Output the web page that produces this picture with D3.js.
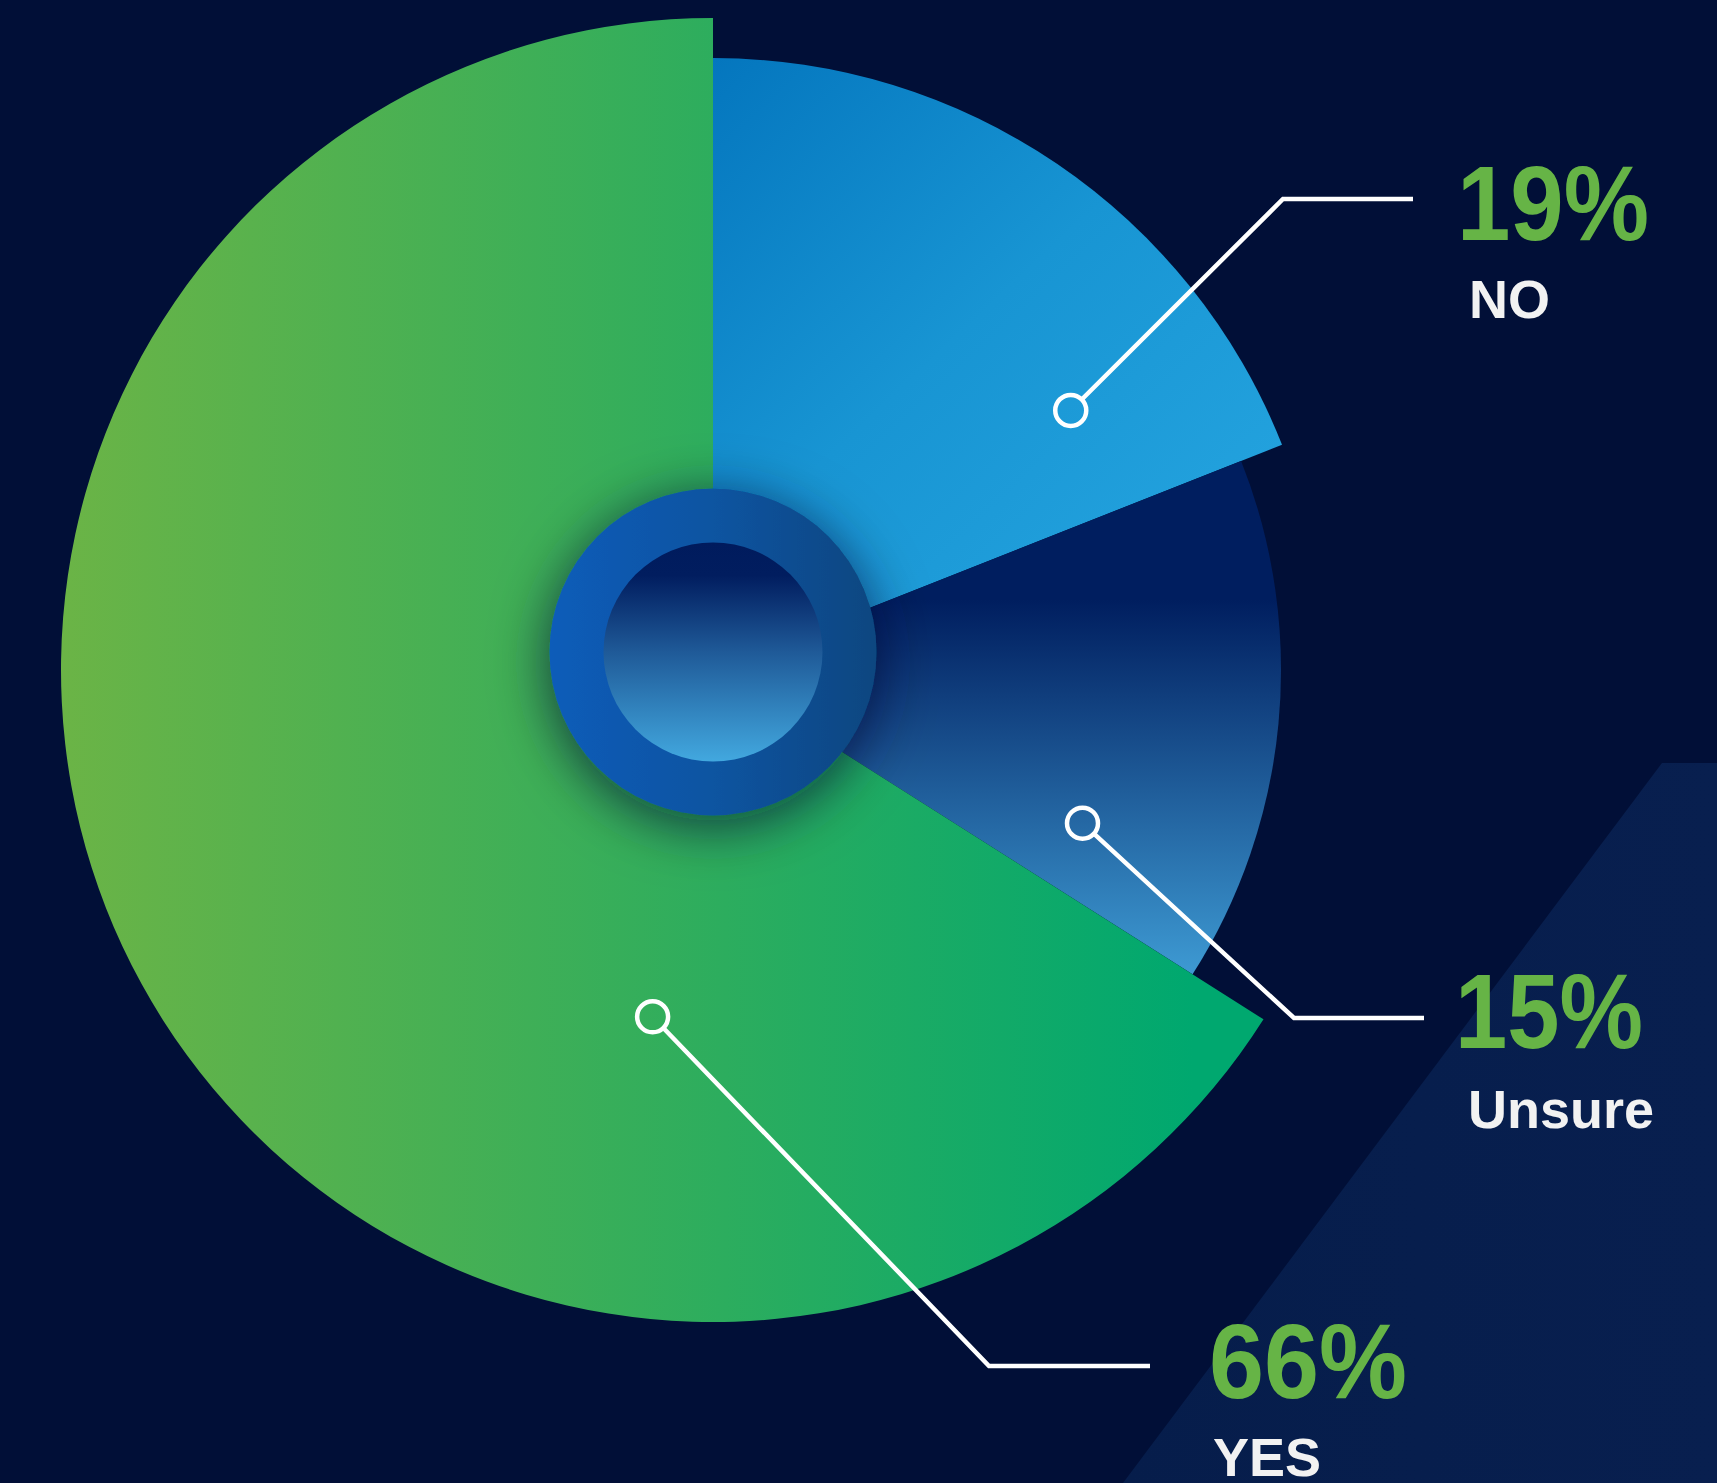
<!DOCTYPE html>
<html>
<head>
<meta charset="utf-8">
<script src="https://cdn.jsdelivr.net/npm/d3@7"></script>
<style>
  html, body { margin: 0; padding: 0; background: #010f37; }
  svg { display: block; }
</style>
</head>
<body>
<script>
// Survey answers (percent of respondents)
const categories = ["NO", "Unsure", "YES"];
const shares = [19, 15, 66];
const shareLabels = ["19%", "15%", "66%"];

const W = 1717, H = 1483;
const cx = 713, cy = 670;

// Each answer gets its own outer radius
const outerRadius = { NO: 612, Unsure: 568, YES: 652 };

// Callout layout: anchor sits at fraction t of the slice sweep, at radius r
const callout = {
  NO:     { t: 0.79,  r: 442, elbow: [1283, 199],  end: [1413, 199],  label: [1457, 240],  width: 192, sub: [1469, 318] },
  Unsure: { t: 0.817, r: 400, elbow: [1294, 1018], end: [1424, 1018], label: [1455, 1048], width: 188, sub: [1468, 1128] },
  YES:    { t: 0.284, r: 352, elbow: [989, 1366],  end: [1150, 1366], label: [1209, 1398], width: 198, sub: [1213, 1476] }
};

const svg = d3.select("body").append("svg")
  .attr("width", W).attr("height", H)
  .attr("viewBox", `0 0 ${W} ${H}`);

const defs = svg.append("defs");

function linear(id, attrs, stops) {
  const g = defs.append("linearGradient").attr("id", id);
  Object.entries(attrs).forEach(([k, v]) => g.attr(k, v));
  stops.forEach(([o, c]) => g.append("stop").attr("offset", o).attr("stop-color", c));
  return g;
}

// slice fills (coordinates relative to the pie centre)
linear("grad-YES", { gradientUnits: "userSpaceOnUse", x1: -652, y1: 0, x2: 480, y2: 0 },
  [[0, "#6bb446"], [1, "#00a86f"]]);
linear("grad-NO", { gradientUnits: "userSpaceOnUse", x1: 0, y1: -612, x2: 460, y2: -120 },
  [[0, "#0476be"], [0.55, "#1895d3"], [1, "#22a1dd"]]);
linear("grad-Unsure", { gradientUnits: "userSpaceOnUse", x1: 0, y1: -70, x2: 0, y2: 350 },
  [[0, "#001e5f"], [1, "#45a9e1"]]);
// centre ring and hub
linear("grad-ring", { x1: 0, y1: 0, x2: 1, y2: 0 },
  [[0, "#0a5cb9"], [0.5, "#0a54a1"], [1, "#0b4680"]]);
linear("grad-hub", { x1: 0, y1: 0, x2: 0, y2: 1 },
  [[0, "#001b5d"], [0.15, "#011d5f"], [0.5, "#1f5a98"], [1, "#42a8df"]]);
linear("grad-panel", { gradientUnits: "userSpaceOnUse", x1: 1120, y1: 0, x2: 1717, y2: 0 },
  [[0, "#061d4b"], [1, "#081f4f"]]);

const shadow = defs.append("filter").attr("id", "ring-shadow")
  .attr("x", "-70%").attr("y", "-70%").attr("width", "240%").attr("height", "240%");
shadow.append("feGaussianBlur").attr("in", "SourceAlpha").attr("stdDeviation", 28).attr("result", "blur");
shadow.append("feOffset").attr("in", "blur").attr("dx", 0).attr("dy", 10).attr("result", "off");
shadow.append("feFlood").attr("flood-color", "#001030").attr("flood-opacity", 0.7).attr("result", "col");
shadow.append("feComposite").attr("in", "col").attr("in2", "off").attr("operator", "in").attr("result", "sh");
const merge = shadow.append("feMerge");
merge.append("feMergeNode").attr("in", "sh");
merge.append("feMergeNode").attr("in", "SourceGraphic");

// background panel in the lower right corner
svg.append("polygon")
  .attr("points", [[1662, 763], [W, 763], [W, H], [1123, H]].map(p => p.join(",")).join(" "))
  .attr("fill", "url(#grad-panel)");

const data = categories.map((c, i) => ({ cat: c, value: shares[i], label: shareLabels[i] }));
const pie = d3.pie().sort(null).value(d => d.value).startAngle(0).endAngle(2 * Math.PI);
const arcs = pie(data);
const arcGen = d3.arc().innerRadius(0).outerRadius(d => outerRadius[d.data.cat]);

const g = svg.append("g").attr("transform", `translate(${cx},${cy})`);

g.selectAll("path.slice").data(arcs).join("path")
  .attr("class", "slice")
  .attr("d", arcGen)
  .attr("fill", d => `url(#grad-${d.data.cat})`);

// centre ring with soft shadow, and the hub inside it
g.append("circle").attr("cx", 0).attr("cy", -18).attr("r", 163.5)
  .attr("fill", "url(#grad-ring)").attr("filter", "url(#ring-shadow)");
g.append("circle").attr("cx", 0).attr("cy", -18).attr("r", 109.5)
  .attr("fill", "url(#grad-hub)");

// callouts
const calloutLayer = svg.append("g");
arcs.forEach(a => {
  const c = callout[a.data.cat];
  const ang = a.startAngle + c.t * (a.endAngle - a.startAngle);
  const [px, py] = d3.pointRadial(ang, c.r);
  const ax = cx + px, ay = cy + py;
  const dr = 15.5;
  const dx = c.elbow[0] - ax, dy = c.elbow[1] - ay, len = Math.hypot(dx, dy);
  const start = [ax + dx / len * dr, ay + dy / len * dr];

  calloutLayer.append("polyline")
    .attr("points", [start, c.elbow, c.end].map(p => p.join(",")).join(" "))
    .attr("fill", "none").attr("stroke", "#ffffff").attr("stroke-width", 4.5)
    .attr("stroke-linejoin", "miter");
  calloutLayer.append("circle")
    .attr("cx", ax).attr("cy", ay).attr("r", dr)
    .attr("fill", "none").attr("stroke", "#ffffff").attr("stroke-width", 4.5);

  calloutLayer.append("text")
    .attr("x", c.label[0]).attr("y", c.label[1])
    .attr("font-family", "'Liberation Sans', Arial, Helvetica, sans-serif")
    .attr("font-weight", 700).attr("font-size", 105)
    .attr("textLength", c.width).attr("lengthAdjust", "spacingAndGlyphs")
    .attr("fill", "#66b446")
    .text(a.data.label);
  calloutLayer.append("text")
    .attr("x", c.sub[0]).attr("y", c.sub[1])
    .attr("font-family", "'Liberation Sans', Arial, Helvetica, sans-serif")
    .attr("font-weight", 700).attr("font-size", 54)
    .attr("fill", "#f2f2f2")
    .text(a.data.cat);
});
</script>
</body>
</html>
